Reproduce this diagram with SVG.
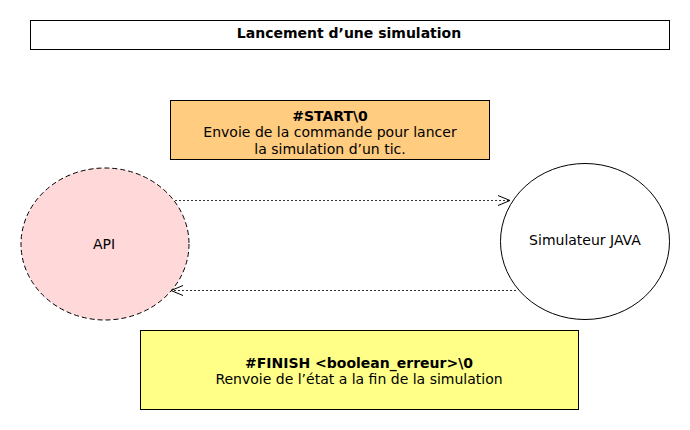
<svg xmlns="http://www.w3.org/2000/svg" width="690" height="430" viewBox="0 0 690 430">
<style>
.t{font-family:"DejaVu Sans",sans-serif;font-size:14px;fill:#000;text-anchor:middle}
.b{font-weight:bold}
.box{stroke:#000;stroke-width:1}
.conn{stroke:#333;stroke-width:1;stroke-dasharray:2,2;fill:none}
</style>
<defs>
<marker id="arr" viewBox="0 0 12 12" refX="12" refY="6" markerWidth="12" markerHeight="12" markerUnits="userSpaceOnUse" orient="auto">
<path d="M0,1 L12,6 L0,11" fill="none" stroke="#000" stroke-width="1"/>
</marker>
</defs>
<rect width="690" height="430" fill="#fff"/>
<g id="title">
<rect class="box" x="30.5" y="20.5" width="639" height="29" fill="#fff"/>
<text class="t b" x="349" y="37.5">Lancement d’une simulation</text>
</g>
<g id="start">
<rect class="box" x="170.5" y="100.5" width="319" height="59" fill="#FFCC80"/>
<text class="t b" x="330" y="120.5">#START\0</text>
<text class="t" x="330" y="137">Envoie de la commande pour lancer</text>
<text class="t" x="330" y="153.5">la simulation d’un tic.</text>
</g>
<g id="api">
<ellipse cx="105" cy="244" rx="84" ry="76" fill="#FFD9D9" stroke="#000" stroke-dasharray="5,3"/>
<text class="t" x="104" y="249">API</text>
</g>
<g id="simulateur">
<ellipse cx="585" cy="241.5" rx="84.5" ry="78" fill="#fff" stroke="#000"/>
<text class="t" x="585" y="245">Simulateur JAVA</text>
</g>
<g id="finish">
<rect class="box" x="140.5" y="330.5" width="438" height="79" fill="#FFFF88"/>
<text class="t b" x="359" y="367.5">#FINISH &lt;boolean_erreur&gt;\0</text>
<text class="t" x="359" y="384">Renvoie de l’état a la fin de la simulation</text>
</g>
<g id="connectors">
<line class="conn" x1="175" y1="200.5" x2="510" y2="200.5" marker-end="url(#arr)"/>
<line class="conn" x1="516" y1="290.5" x2="171" y2="290.5" marker-end="url(#arr)"/>
</g>
</svg>
